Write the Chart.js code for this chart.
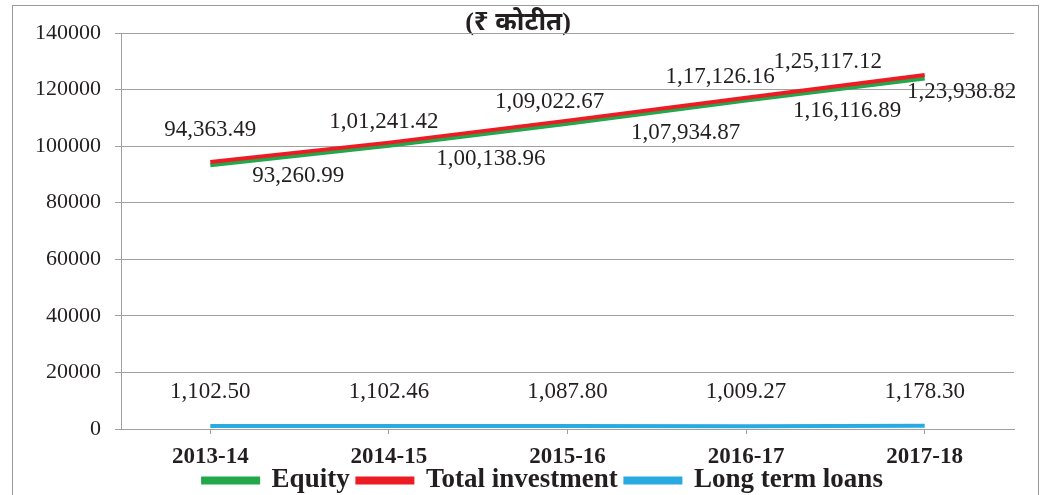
<!DOCTYPE html>
<html>
<head>
<meta charset="utf-8">
<script src="https://cdn.jsdelivr.net/npm/chart.js@4"></script>
<style>
  html, body { margin: 0; padding: 0; background: #fff; }
  #wrap { width: 1050px; height: 495px; }
</style>
</head>
<body>
<div id="wrap"><canvas id="investChart" width="1050" height="495"></canvas></div>
<script>
// data
const years = ["2013-14", "2014-15", "2015-16", "2016-17", "2017-18"];
const equity = [93260.99, 100138.96, 107934.87, 116116.89, 123938.82];
const totalInvestment = [94363.49, 101241.42, 109022.67, 117126.16, 125117.12];
const longTermLoans = [1102.50, 1102.46, 1087.80, 1009.27, 1178.30];
const yTicks = [0, 20000, 40000, 60000, 80000, 100000, 120000, 140000];

const textColor = "#231f20";
const gridColor = "#a0a0a0";

// label offsets (px from the point), placed like the original
const labelShift = {
  0: [[88, 11], [102, 13], [118, 9], [101, 10], [37, 14]],
  1: [[0, -32], [-5, -21], [-18, -19], [-26, -21], [-97, -13]],
  2: [[0, -34], [0, -34], [0, -34], [0, -34], [0, -34]]
};

// indian style grouping: 1,01,241.42
function fmtIN(v) {
  const parts = v.toFixed(2).split(".");
  let s = parts[0];
  let last3 = s.slice(-3);
  let rest = s.slice(0, -3);
  if (rest.length) {
    rest = rest.replace(/\B(?=(\d{2})+(?!\d))/g, ",");
    last3 = rest + "," + last3;
  }
  return last3 + "." + parts[1];
}

const frame = {
  id: "frame",
  beforeDraw(chart) {
    const ctx = chart.ctx;
    ctx.save();
    ctx.fillStyle = "#fff";
    ctx.fillRect(0, 0, chart.width, chart.height);
    ctx.strokeStyle = "#999";
    ctx.lineWidth = 1;
    ctx.strokeRect(12.5, 5.5, 1026, 600);
    ctx.fillStyle = textColor;
    ctx.font = "bold 26px 'Liberation Serif', 'Noto Sans', serif";
    ctx.textAlign = "center";
    ctx.textBaseline = "middle";
    ctx.fillText("(₹ कोटीत)", 518, 23);
    ctx.restore();
  },
  // nudge the legend row a little to the right, as in the original
  afterLayout(chart) {
    chart.legend.left += 36;
    chart.legend.right += 36;
  }
};

const valueLabels = {
  id: "valueLabels",
  afterDatasetsDraw(chart) {
    const ctx = chart.ctx;
    ctx.save();
    ctx.font = "23px 'Liberation Serif', serif";
    ctx.fillStyle = textColor;
    ctx.textAlign = "center";
    ctx.textBaseline = "middle";
    chart.data.datasets.forEach(function (ds, i) {
      const meta = chart.getDatasetMeta(i);
      meta.data.forEach(function (pt, j) {
        const sh = labelShift[i][j];
        ctx.fillText(fmtIN(ds.data[j]), pt.x + sh[0], pt.y + sh[1]);
      });
    });
    ctx.restore();
  }
};

new Chart("investChart", {
  type: "line",
  data: {
    labels: years,
    datasets: [{
      label: "Equity",
      data: equity,
      borderColor: "#22a84a",
      backgroundColor: "#22a84a",
      borderWidth: 4,
      pointRadius: 0,
      order: 1
    }, {
      label: "Total investment",
      data: totalInvestment,
      borderColor: "#ed1c24",
      backgroundColor: "#ed1c24",
      borderWidth: 4,
      pointRadius: 0,
      order: 0
    }, {
      label: "Long term loans",
      data: longTermLoans,
      borderColor: "#29abe2",
      backgroundColor: "#29abe2",
      borderWidth: 4,
      pointRadius: 0,
      order: 2
    }]
  },
  options: {
    responsive: false,
    animation: false,
    layout: { padding: { left: 0, right: 36, top: 33, bottom: -9 } },
    plugins: {
      tooltip: { enabled: false },
      legend: {
        position: "bottom",
        labels: {
          sort: function (a, b) { return a.datasetIndex - b.datasetIndex; },
          generateLabels: function (chart) {
            const items = Chart.defaults.plugins.legend.labels.generateLabels(chart);
            items.forEach(function (it, k) {
              if (k < items.length - 1) it.text = it.text + " ";
            });
            return items;
          },
          boxWidth: 55,
          boxHeight: 4,
          padding: 1,
          color: textColor,
          font: { family: "'Liberation Serif', serif", size: 27, weight: "bold" }
        }
      }
    },
    scales: {
      x: {
        offset: true,
        afterFit: function (scale) { scale.height = 37; },
        grid: { display: true, drawOnChartArea: false, tickLength: 5, color: gridColor },
        border: { color: gridColor },
        ticks: {
          padding: 9,
          color: textColor,
          font: { family: "'Liberation Serif', serif", size: 23, weight: "bold" }
        }
      },
      y: {
        min: 0,
        max: 140000,
        afterFit: function (scale) { scale.width = 121; },
        afterBuildTicks: function (scale) {
          scale.ticks = yTicks.map(function (v) { return { value: v }; });
        },
        grid: { color: gridColor, tickLength: 6 },
        border: { color: gridColor },
        ticks: {
          padding: 14,
          color: textColor,
          font: { family: "'Liberation Serif', serif", size: 22 },
          callback: function (v) { return String(v); }
        }
      }
    }
  },
  plugins: [frame, valueLabels]
});
</script>
</body>
</html>
